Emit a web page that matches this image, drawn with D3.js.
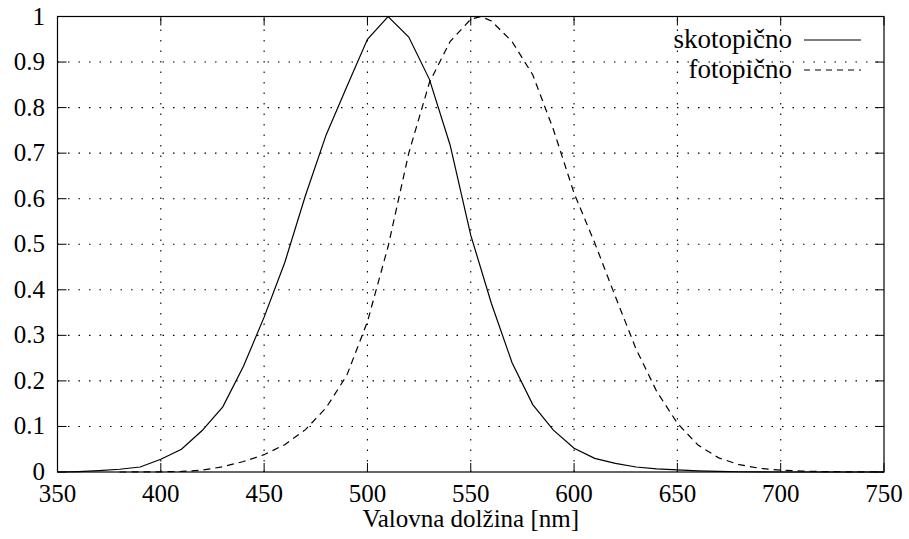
<!DOCTYPE html>
<html>
<head>
<meta charset="utf-8">
<script src="https://cdn.jsdelivr.net/npm/d3@7"></script>
<style>
  body{margin:0;background:#fff;}
  svg{display:block;}
</style>
</head>
<body>
<svg width="909" height="539" font-family="'Liberation Serif', 'DejaVu Serif', serif"></svg>
<script>
// valovne dolžine + vrednosti (odčitano s slike)
const skotLambda=[350,360,370,380,390,400,410,420,430,440,450,460,470,480,490,500,510,520,530,540,550,
                  560,570,580,590,600,610,620,630,640,650,660,670,680,690,700,710,720,730,740,750];
const skot=[0.000,0.001,0.003,0.006,0.011,0.028,0.050,0.091,0.143,0.232,0.340,0.460,0.607,0.740,0.846,0.950,1.000,0.955,0.862,0.718,0.520,
            0.370,0.240,0.148,0.092,0.052,0.030,0.019,0.011,0.007,0.0045,0.0025,0.0012,0.0006,0.0003,0,0,0,0,0,0];

const fotoLambda=[380,390,400,410,420,430,440,450,460,470,480,490,500,510,520,530,540,550,555,
                  560,570,580,590,600,610,620,630,640,650,660,670,680,690,700,710,720,730,740,750];
const foto=[0,0.0001,0.0004,0.0012,0.004,0.0116,0.023,0.038,0.060,0.093,0.141,0.212,0.330,0.495,0.700,0.855,0.945,0.994,1.000,
            0.990,0.945,0.872,0.752,0.612,0.503,0.385,0.270,0.177,0.107,0.059,0.031,0.016,0.008,0.004,0.002,0.001,0.0005,0.0002,0.0001];

const xTicks=[350,400,450,500,550,600,650,700,750];
const yTicks=[0,0.1,0.2,0.3,0.4,0.5,0.6,0.7,0.8,0.9,1];
const yLabels=['0','0.1','0.2','0.3','0.4','0.5','0.6','0.7','0.8','0.9','1'];
const legendNames=['skotopično','fotopično'];
const xTitle='Valovna dolžina [nm]';

const svg=d3.select('svg');
const margin={top:16.5,right:25,bottom:67,left:57.5};
const W=909,H=539;

const x=d3.scaleLinear().domain([350,750]).range([margin.left,W-margin.right]);
const y=d3.scaleLinear().domain([0,1]).range([H-margin.bottom,margin.top]);

const tickLen=9;
const fs=25;

/*****grid************/
const grid=svg.append('g').attr('stroke','#000').attr('stroke-width',1.1).attr('stroke-dasharray','1.5,9');
grid.selectAll('.gx').data(xTicks.slice(1,-1)).enter().append('line')
  .attr('x1',d=>x(d)).attr('x2',d=>x(d)).attr('y1',y(0)).attr('y2',y(1));
grid.selectAll('.gy').data(yTicks.slice(1,-1)).enter().append('line')
  .attr('y1',d=>y(d)).attr('y2',d=>y(d)).attr('x1',x(350)).attr('x2',x(750));

/*****ticks (mirror)*********/
const ticks=svg.append('g').attr('stroke','#000').attr('stroke-width',1);
xTicks.forEach(d=>{
  ticks.append('line').attr('x1',x(d)).attr('x2',x(d)).attr('y1',y(0)).attr('y2',y(0)-tickLen);
  ticks.append('line').attr('x1',x(d)).attr('x2',x(d)).attr('y1',y(1)).attr('y2',y(1)+tickLen);
});
yTicks.forEach(d=>{
  ticks.append('line').attr('y1',y(d)).attr('y2',y(d)).attr('x1',x(350)).attr('x2',x(350)+tickLen);
  ticks.append('line').attr('y1',y(d)).attr('y2',y(d)).attr('x1',x(750)).attr('x2',x(750)-tickLen);
});

/*****labels********/
svg.selectAll('.xl').data(xTicks).enter().append('text')
  .attr('x',d=>x(d)).attr('y',502).attr('text-anchor','middle').attr('font-size',fs)
  .text(d=>d);
svg.selectAll('.yl').data(yTicks).enter().append('text')
  .attr('x',45).attr('y',d=>y(d)+8).attr('text-anchor','end').attr('font-size',fs)
  .text((d,i)=>yLabels[i]);
svg.append('text').attr('x',(x(350)+x(750))/2).attr('y',527).attr('text-anchor','middle')
  .attr('font-size',fs).text(xTitle);

/*****curves********/
const line=d3.line().x(d=>x(d[0])).y(d=>y(d[1]));
svg.append('path').datum(skotLambda.map((l,i)=>[l,skot[i]]))
  .attr('d',line).attr('fill','none').attr('stroke','#000').attr('stroke-width',1.2);
svg.append('path').datum(fotoLambda.map((l,i)=>[l,foto[i]]))
  .attr('d',line).attr('fill','none').attr('stroke','#000').attr('stroke-width',1.2)
  .attr('stroke-dasharray','7,5');

/*****border*******/
svg.append('rect').attr('x',x(350)).attr('y',y(1)).attr('width',x(750)-x(350)).attr('height',y(0)-y(1))
  .attr('fill','none').attr('stroke','#000').attr('stroke-width',1.2);

/*****legend*******/
const leg=svg.append('g');
legendNames.forEach((n,i)=>{
  const ly=40+i*30;
  leg.append('text').attr('x',792).attr('y',ly+8).attr('text-anchor','end').attr('font-size',27).text(n);
  leg.append('line').attr('x1',804).attr('x2',861).attr('y1',ly).attr('y2',ly)
    .attr('stroke','#000').attr('stroke-width',1.2)
    .attr('stroke-dasharray',i===1?'6,5':null);
});
</script>
</body>
</html>
